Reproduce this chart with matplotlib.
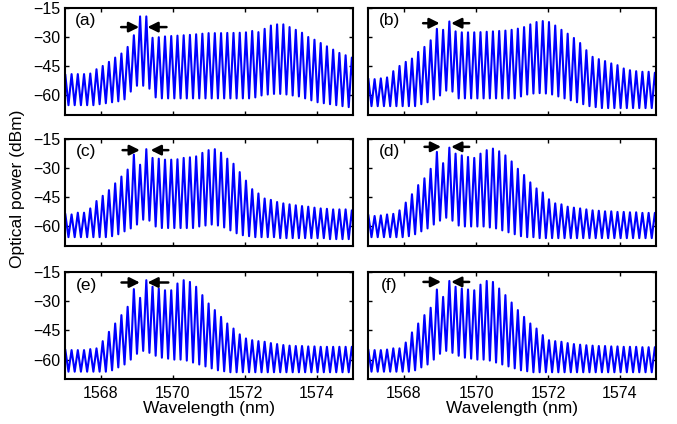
import numpy as np
import matplotlib.pyplot as plt

plt.rcParams['font.family'] = ['Liberation Sans', 'DejaVu Sans']

# comb lines: 47 lines, 0.173 nm apart, starting at 1567.01 nm
line_start = 1567.01
line_step = 0.173
n_lines = 47

labels = ['(a)', '(b)', '(c)', '(d)', '(e)', '(f)']

# peak power of each comb line (dBm)
peaks = {
    '(a)': [-49.5, -49, -49, -49, -48.7, -46.5, -44.8, -42.7, -40.5, -38.4, -35, -29, -19.3,
            -19.3,
            -30.3, -30, -29.6, -29.4, -29.2, -29, -28.8, -28.5, -28.2, -27.9, -27.9, -27.9,
            -27.8, -27.8, -27.7, -27.5, -26.8, -27.4, -25.7, -24, -23.4, -23.4, -24.8, -26.2,
            -27.7, -29.9, -31.3, -33, -34.7, -36.4, -38.1, -39.3, -40.5],
    '(b)': [-51.6, -51.6, -51.2, -50.7, -47.5, -44.8, -42.7, -41, -37.6, -35, -31.6, -25.7, -26.2,
            -21.9,
            -27, -27.5, -27.5, -27.5, -27.4, -27.2, -27, -26.8, -26.6, -26.2, -25.6, -24.8,
            -23.4, -22.2, -21.7, -22.2, -24, -26.2, -28.2, -30.4, -33, -36.7, -40.1, -41.3,
            -42.3, -43.5, -44.4, -46.1, -47, -47.5, -47.8, -47.8, -48.3],
    '(c)': [-53.8, -53.8, -52.9, -52.9, -50.7, -46.9, -44.2, -41.3, -37.8, -34.3, -30.7, -23, -28.2,
            -20.2,
            -24.7, -25.1, -25.6, -25.6, -25.4, -24.7, -24.4, -23.9, -22.1, -20.7, -20.2, -22,
            -25.1, -27.7, -32, -36.4, -40.8, -43, -45.6, -46.3, -47.4, -48.1, -48.6, -49.1,
            -49.5, -49.8, -50.3, -50.7, -50.9, -51.2, -51.2, -51.2, -51.7],
    '(d)': [-54.3, -54.6, -54.3, -53.8, -53.5, -51.7, -47.7, -43.4, -38.7, -35.2, -30.3, -21.6, -27.4,
            -19.4,
            -22.5, -23.4, -24.2, -24.7, -22.5, -20.7, -19.9, -21.3, -23.4, -26.5, -30.3, -33.5,
            -37.3, -40.4, -42.5, -46, -48.1, -48.6, -49.8, -50.3, -50.7, -51.2, -51.7, -51.9,
            -52.2, -52.2, -52.5, -52.5, -52.7, -52.7, -53, -53, -53],
    '(e)': [-55.1, -55.1, -55.1, -55.1, -54.6, -54.2, -50.5, -45.7, -41.4, -37.1, -32.8, -23.7, -28.2,
            -19.1,
            -22.5, -23.4, -24.3, -24.3, -20.8, -19.1, -20, -22.5, -26.8, -31.1, -34.5, -38,
            -41.4, -44, -47, -49.1, -50, -50.5, -50.8, -51.5, -52, -52.5, -52.8, -53, -53,
            -53.2, -53.2, -53.4, -53.4, -53.4, -53.4, -53.4, -53.4],
    '(f)': [-55.1, -55.1, -55.1, -54.8, -54.2, -54.2, -51.2, -46, -41.4, -37.1, -33.3, -23.9, -27.7,
            -19.5,
            -22.5, -23.4, -23.9, -24.3, -21.4, -19.5, -20, -23.4, -26.8, -30.6, -34.5, -38,
            -41.4, -44, -47.4, -50, -50.5, -50.8, -51.5, -52, -52.3, -52.6, -52.8, -53, -53,
            -53.2, -53.2, -53.4, -53.4, -53.4, -53.6, -53.6, -53.6],
}

# floor between each line and the next one (dBm)
valleys = {
    '(a)': [-65, -65, -65, -65, -65, -64.5, -64, -63.5, -63, -62, -58, -55, -55,
            -56.5,
            -61, -61.5, -61.5, -61.5, -61.5, -61.5, -61.5, -61.5, -61.5, -61.5, -61.5, -61.5,
            -61.5, -61.5, -61.5, -61.5, -61, -60, -59.5, -59.2, -59.2, -59.5, -60, -60.5,
            -61.5, -62.5, -63.5, -64, -64.5, -65, -65.5, -66, -66],
    '(b)': [-65.5, -65.5, -65.5, -65.5, -65.5, -65.5, -65.5, -65.5, -64.5, -63.5, -62, -60, -57.5,
            -58,
            -61.5, -61.5, -61.5, -61.5, -61.5, -61.5, -61.5, -61.5, -61.5, -61.5, -60.5, -59.5,
            -59, -58.8, -59, -59.5, -60.5, -61.5, -62.5, -63.5, -64.5, -65.5, -66, -66.5,
            -66.5, -66.5, -66.5, -66.5, -66.5, -66.5, -66.5, -66.5, -66.5],
    '(c)': [-65.5, -65.5, -65.5, -65.5, -65.5, -65.5, -65.5, -65, -64, -62.5, -61, -59, -56.5,
            -57,
            -60, -60.8, -60.8, -60.8, -60.8, -60.8, -60.8, -60, -59.5, -59, -59.5, -60.5,
            -62, -63.5, -64.5, -65, -65.5, -65.5, -65.5, -65.5, -66, -66, -66, -66, -66,
            -66, -66, -66, -66.5, -66.5, -66.5, -66.5, -66.5],
    '(d)': [-65.5, -65.5, -65.5, -65.5, -65.5, -65.5, -65, -64, -62.5, -61, -59, -57, -55.5,
            -57,
            -59.5, -60, -60, -60, -60, -60.5, -61, -62, -63, -64, -65, -65.5, -65.5,
            -66, -66, -66, -66, -66, -66, -66, -66, -66, -66, -66, -66, -66, -66,
            -66, -66, -66, -66, -66, -66],
    '(e)': [-66.2, -66.2, -66.2, -66.2, -66.2, -66.2, -66.2, -65.5, -64, -62.5, -60, -57, -55.5,
            -56.5,
            -58, -59, -59.5, -60, -60, -60.5, -61.5, -62.5, -63.5, -64.5, -65.5, -66, -66.5,
            -66.5, -66.5, -66.5, -66.5, -66.5, -66.5, -66.5, -66.5, -66.5, -66.5, -66.5, -66.5,
            -66.5, -66.5, -66.5, -66.5, -66.5, -66.5, -66.5, -66.5],
    '(f)': [-66.2, -66.2, -66.2, -66.2, -66.2, -66.2, -66.2, -65.5, -64, -62.5, -60, -57, -55.5,
            -56.5,
            -58, -59, -59.5, -60, -60, -60.5, -61.5, -62.5, -63.5, -64.5, -65.5, -66, -66.5,
            -66.5, -66.5, -66.5, -66.5, -66.5, -66.5, -66.5, -66.5, -66.5, -66.5, -66.5, -66.5,
            -66.5, -66.5, -66.5, -66.5, -66.5, -66.5, -66.5, -66.5],
}

# arrows marking the two injected lines: (left tail, left tip, right tip, right tail, height)
arrows = {
    '(a)': (1568.56, 1569.06, 1569.29, 1569.82, -24.8),
    '(b)': (1568.53, 1568.99, 1569.31, 1569.81, -22.8),
    '(c)': (1568.60, 1569.08, 1569.38, 1569.87, -20.7),
    '(d)': (1568.57, 1569.03, 1569.31, 1569.81, -19.0),
    '(e)': (1568.57, 1569.08, 1569.29, 1569.87, -20.3),
    '(f)': (1568.54, 1569.03, 1569.31, 1569.81, -20.0),
}

fig = plt.figure(figsize=(6.77, 4.24), dpi=100)

lefts = [0.096, 0.5436]
bottoms = [0.729, 0.420, 0.106]
w, h = 0.4254, 0.252

grid = line_start + line_step * np.arange(n_lines)
x = np.column_stack([grid, grid + line_step / 2]).ravel()

for i, lab in enumerate(labels):
    row, col = divmod(i, 2)
    ax = fig.add_axes([lefts[col], bottoms[row], w, h])
    y = np.column_stack([peaks[lab], valleys[lab]]).ravel()
    ax.plot(x, y, color='#0000ff', lw=1.5, solid_joinstyle='round')

    lt, lp, rp, rt, ay = arrows[lab]
    aprops = dict(arrowstyle='-|>', color='k', lw=1.8, mutation_scale=15,
                  shrinkA=0, shrinkB=0)
    ax.annotate('', xy=(lp, ay), xytext=(lt, ay), arrowprops=aprops)
    ax.annotate('', xy=(rp, ay), xytext=(rt, ay), arrowprops=aprops)

    ax.text(0.073, 0.88, lab, transform=ax.transAxes, fontsize=12.5,
            ha='center', va='center')

    ax.set_xlim(1567, 1575)
    ax.set_ylim(-70, -15)
    ax.set_xticks([1568, 1570, 1572, 1574])
    ax.set_yticks([-60, -45, -30, -15])
    ax.tick_params(direction='in', top=True, right=True, length=3, width=1,
                   labelsize=11.5, pad=3)
    ax.tick_params(axis='x', pad=5)
    for s in ax.spines.values():
        s.set_linewidth(1.5)
    if col == 1:
        ax.set_yticklabels([])
    if row < 2:
        ax.set_xticklabels([])
    else:
        ax.set_xlabel('Wavelength (nm)', fontsize=12.5, labelpad=0)

fig.text(0.026, 0.555, 'Optical power (dBm)', rotation=90, fontsize=12.5,
         ha='center', va='center')

fig.savefig('out.png', dpi=100)
